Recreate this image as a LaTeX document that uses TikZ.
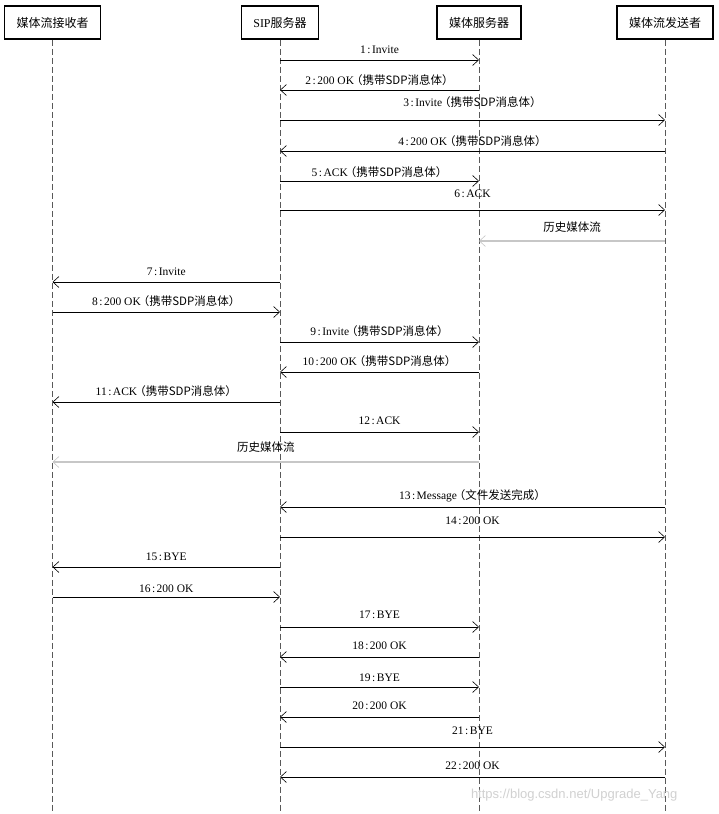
\documentclass[tikz,border=0pt]{standalone}
\usepackage{fontspec}
\setmainfont{Liberation Serif}
\newfontfamily\cjk{Noto Sans CJK SC}
\newfontfamily\wmfont{Liberation Sans}
\usepackage{xcolor}
\usepackage{tikz}
\usetikzlibrary{arrows.meta}
\usetikzlibrary{calc}
\newcommand\zh[1]{{\cjk #1}}
\newcommand\sep{\kern1.5pt:\kern1.5pt}
\newcommand\sdp{\kern-3pt\zh{（携带SDP消息体）}}
\colorlet{lifegray}{black!65}
\colorlet{streamgray}{black!22}
\tikzstyle{role}=[draw,line width=1.6pt,minimum height=33pt,inner xsep=12pt,font=\fontsize{12}{14}\selectfont]
\tikzstyle{lifeline}=[lifegray,line width=.8pt,dash pattern=on 6pt off 3pt]
\tikzstyle{msghead}=[>/.tip={Straight Barb[length=6pt,width=11pt,line width=.6pt]}]
\tikzstyle{msg}=[line width=.6pt,msghead,->]
\tikzstyle{stream}=[line width=1.6pt,streamgray,msghead,->]
\tikzstyle{lbl}=[inner sep=0pt,font=\fontsize{11.5}{13}\selectfont]
\begin{document}
\begin{tikzpicture}[x=1pt,y=-1pt]
	\fill[white] (0,0) rectangle (719,814);
	\useasboundingbox (0,0) rectangle (719,814);
	\node[role] (recv)   at (52.5,22.5) {\zh{媒体流接收者}};
	\node[role] (sip)    at (280,22.5)  {SIP\zh{服务器}};
	\node[role] (media)  at (479,22.5)  {\zh{媒体服务器}};
	\node[role] (sender) at (665,22.5)  {\zh{媒体流发送者}};
	\foreach \r in {recv,sip,media,sender}
		\draw[lifeline] (\r.south) -- (\r |- 0,814);
	% signalling
	\foreach \a/\b/\y/\ly/\txt in {
		sip/media/60/50/{1\sep Invite},
		media/sip/90/80/{2\sep 200 OK\sdp},
		sip/sender/120/102/{3\sep Invite\sdp},
		sender/sip/151/141/{4\sep 200 OK\sdp},
		sip/media/181/172/{5\sep ACK\sdp},
		sip/sender/210/194/{6\sep ACK},
		sip/recv/282/272/{7\sep Invite},
		recv/sip/312/301/{8\sep 200 OK\sdp},
		sip/media/342/331/{9\sep Invite\sdp},
		media/sip/372/361/{10\sep 200 OK\sdp},
		sip/recv/402/391/{11\sep ACK\sdp},
		sip/media/432/421/{12\sep ACK},
		sender/sip/507/496/{13\sep Message\kern-3pt\zh{（文件发送完成）}},
		sip/sender/537/521/{14\sep 200 OK},
		sip/recv/567/557/{15\sep BYE},
		recv/sip/597/589/{16\sep 200 OK},
		sip/media/627/615/{17\sep BYE},
		media/sip/657/646/{18\sep 200 OK},
		sip/media/687/678/{19\sep BYE},
		media/sip/717/706/{20\sep 200 OK},
		sip/sender/747/731/{21\sep BYE},
		sender/sip/777/766/{22\sep 200 OK}}
	{
		\draw[msg] (\a |- 0,\y) -- (\b |- 0,\y);
		\node[lbl] at ($(\a |- 0,\ly)!.5!(\b |- 0,\ly)$) {\txt};
	}
	% media streams
	\foreach \a/\b/\y/\ly in {sender/media/241/227,media/recv/462/447}
	{
		\draw[stream] (\a |- 0,\y) -- (\b |- 0,\y);
		\node[lbl] at ($(\a |- 0,\ly)!.5!(\b |- 0,\ly)$) {\zh{历史媒体流}};
	}
	\node[black!18,font=\wmfont\fontsize{13}{15}\selectfont,anchor=east] (mark) at (681,795) {https://blog.csdn.net/Upgrade\_Yang};
\end{tikzpicture}
\end{document}
